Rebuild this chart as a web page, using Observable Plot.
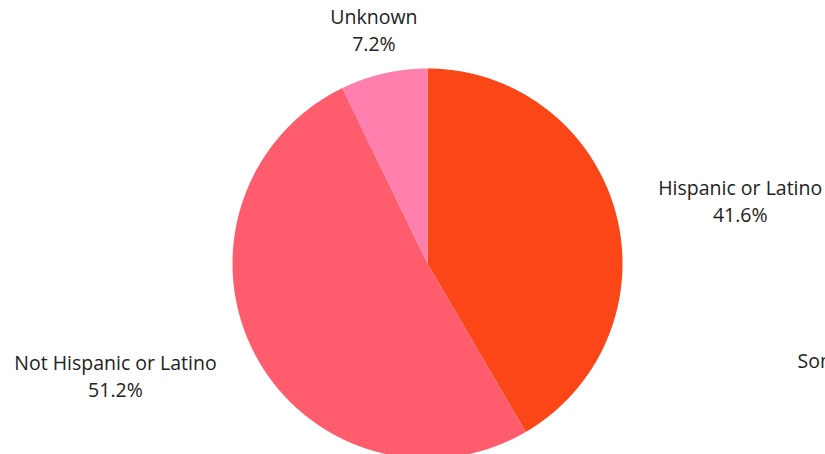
<!DOCTYPE html>
<html>
<head>
<meta charset="utf-8">
<script src="https://cdn.jsdelivr.net/npm/d3@7"></script>
<script src="https://cdn.jsdelivr.net/npm/@observablehq/plot@0.6"></script>
<style>
  html, body { margin: 0; padding: 0; background: #fff; overflow: hidden; }
  #chart svg { display: block; overflow: hidden; }
</style>
</head>
<body>
<div id="chart"></div>
<script>
// ---- data ----
const categories = ["Hispanic or Latino", "Not Hispanic or Latino", "Unknown"];
const shares = [41.6, 51.2, 7.2];
const colors = ["#FB4618", "#FF5C6D", "#FF7FAD"];
const clippedLabels = ["Some other race"];

// ---- layout ----
const W = 825, H = 454;
const CX = 427, CY = 263;      // pie centre in pixels
const R = 195;                  // pie radius
const LABEL_R = 239;            // label anchor radius
const FONT = "Open Sans, sans-serif";
const FS = 19.5, LH = 27;
const clippedPos = {x: 370, y: 98};

const rows = categories.map((c, i) => ({label: c, share: shares[i]}));
const arcs = d3.pie().sort(null).value(d => d.share)(rows);

// slice polygons (centre + sampled arc)
const pts = [];
for (const a of arcs) {
  const n = Math.max(8, Math.ceil((a.endAngle - a.startAngle) / (Math.PI / 720)));
  pts.push({label: a.data.label, x: 0, y: 0});
  for (let k = 0; k <= n; k++) {
    const t = a.startAngle + (a.endAngle - a.startAngle) * k / n;
    pts.push({label: a.data.label, x: R * Math.sin(t), y: -R * Math.cos(t)});
  }
  pts.push({label: a.data.label, x: 0, y: 0});
}

// label positions
const ctx = document.createElement("canvas").getContext("2d");
ctx.font = `${FS}px Open Sans`;
const labels = arcs.map(a => {
  const mid = (a.startAngle + a.endAngle) / 2;
  const s = Math.sin(mid), c = Math.cos(mid);
  const ax = LABEL_R * s, ay = -LABEL_R * c;
  const txt = a.data.label, pct = a.data.share.toFixed(1) + "%";
  const w = Math.max(ctx.measureText(txt).width, ctx.measureText(pct).width);
  const shift = Math.abs(s) > 0.5 ? Math.sign(s) * w / 2 : 0;
  return {x: ax + shift, y: ay, txt, pct};
});

const plot = Plot.plot({
  width: W, height: H,
  margin: 0,
  x: {domain: [-CX, W - CX], range: [0, W], axis: null},
  y: {domain: [-CY, H - CY], range: [0, H], axis: null},
  color: {domain: categories, range: colors},
  style: {fontFamily: FONT, background: "#fff"},
  marks: [
    Plot.line(pts, {x: "x", y: "y", z: "label", fill: "label", stroke: "none", curve: "linear"}),
    Plot.text(labels, {x: "x", y: d => d.y - LH / 2 + 1, text: "txt", fontSize: FS, fill: "#222", textAnchor: "middle"}),
    Plot.text(labels, {x: "x", y: d => d.y + LH / 2 + 1, text: "pct", fontSize: FS, fill: "#222", textAnchor: "middle"}),
    Plot.text(clippedLabels, {x: () => clippedPos.x, y: () => clippedPos.y, text: d => d, fontSize: FS, fill: "#222", textAnchor: "start"})
  ]
});
document.getElementById("chart").appendChild(plot);
</script>
</body>
</html>
